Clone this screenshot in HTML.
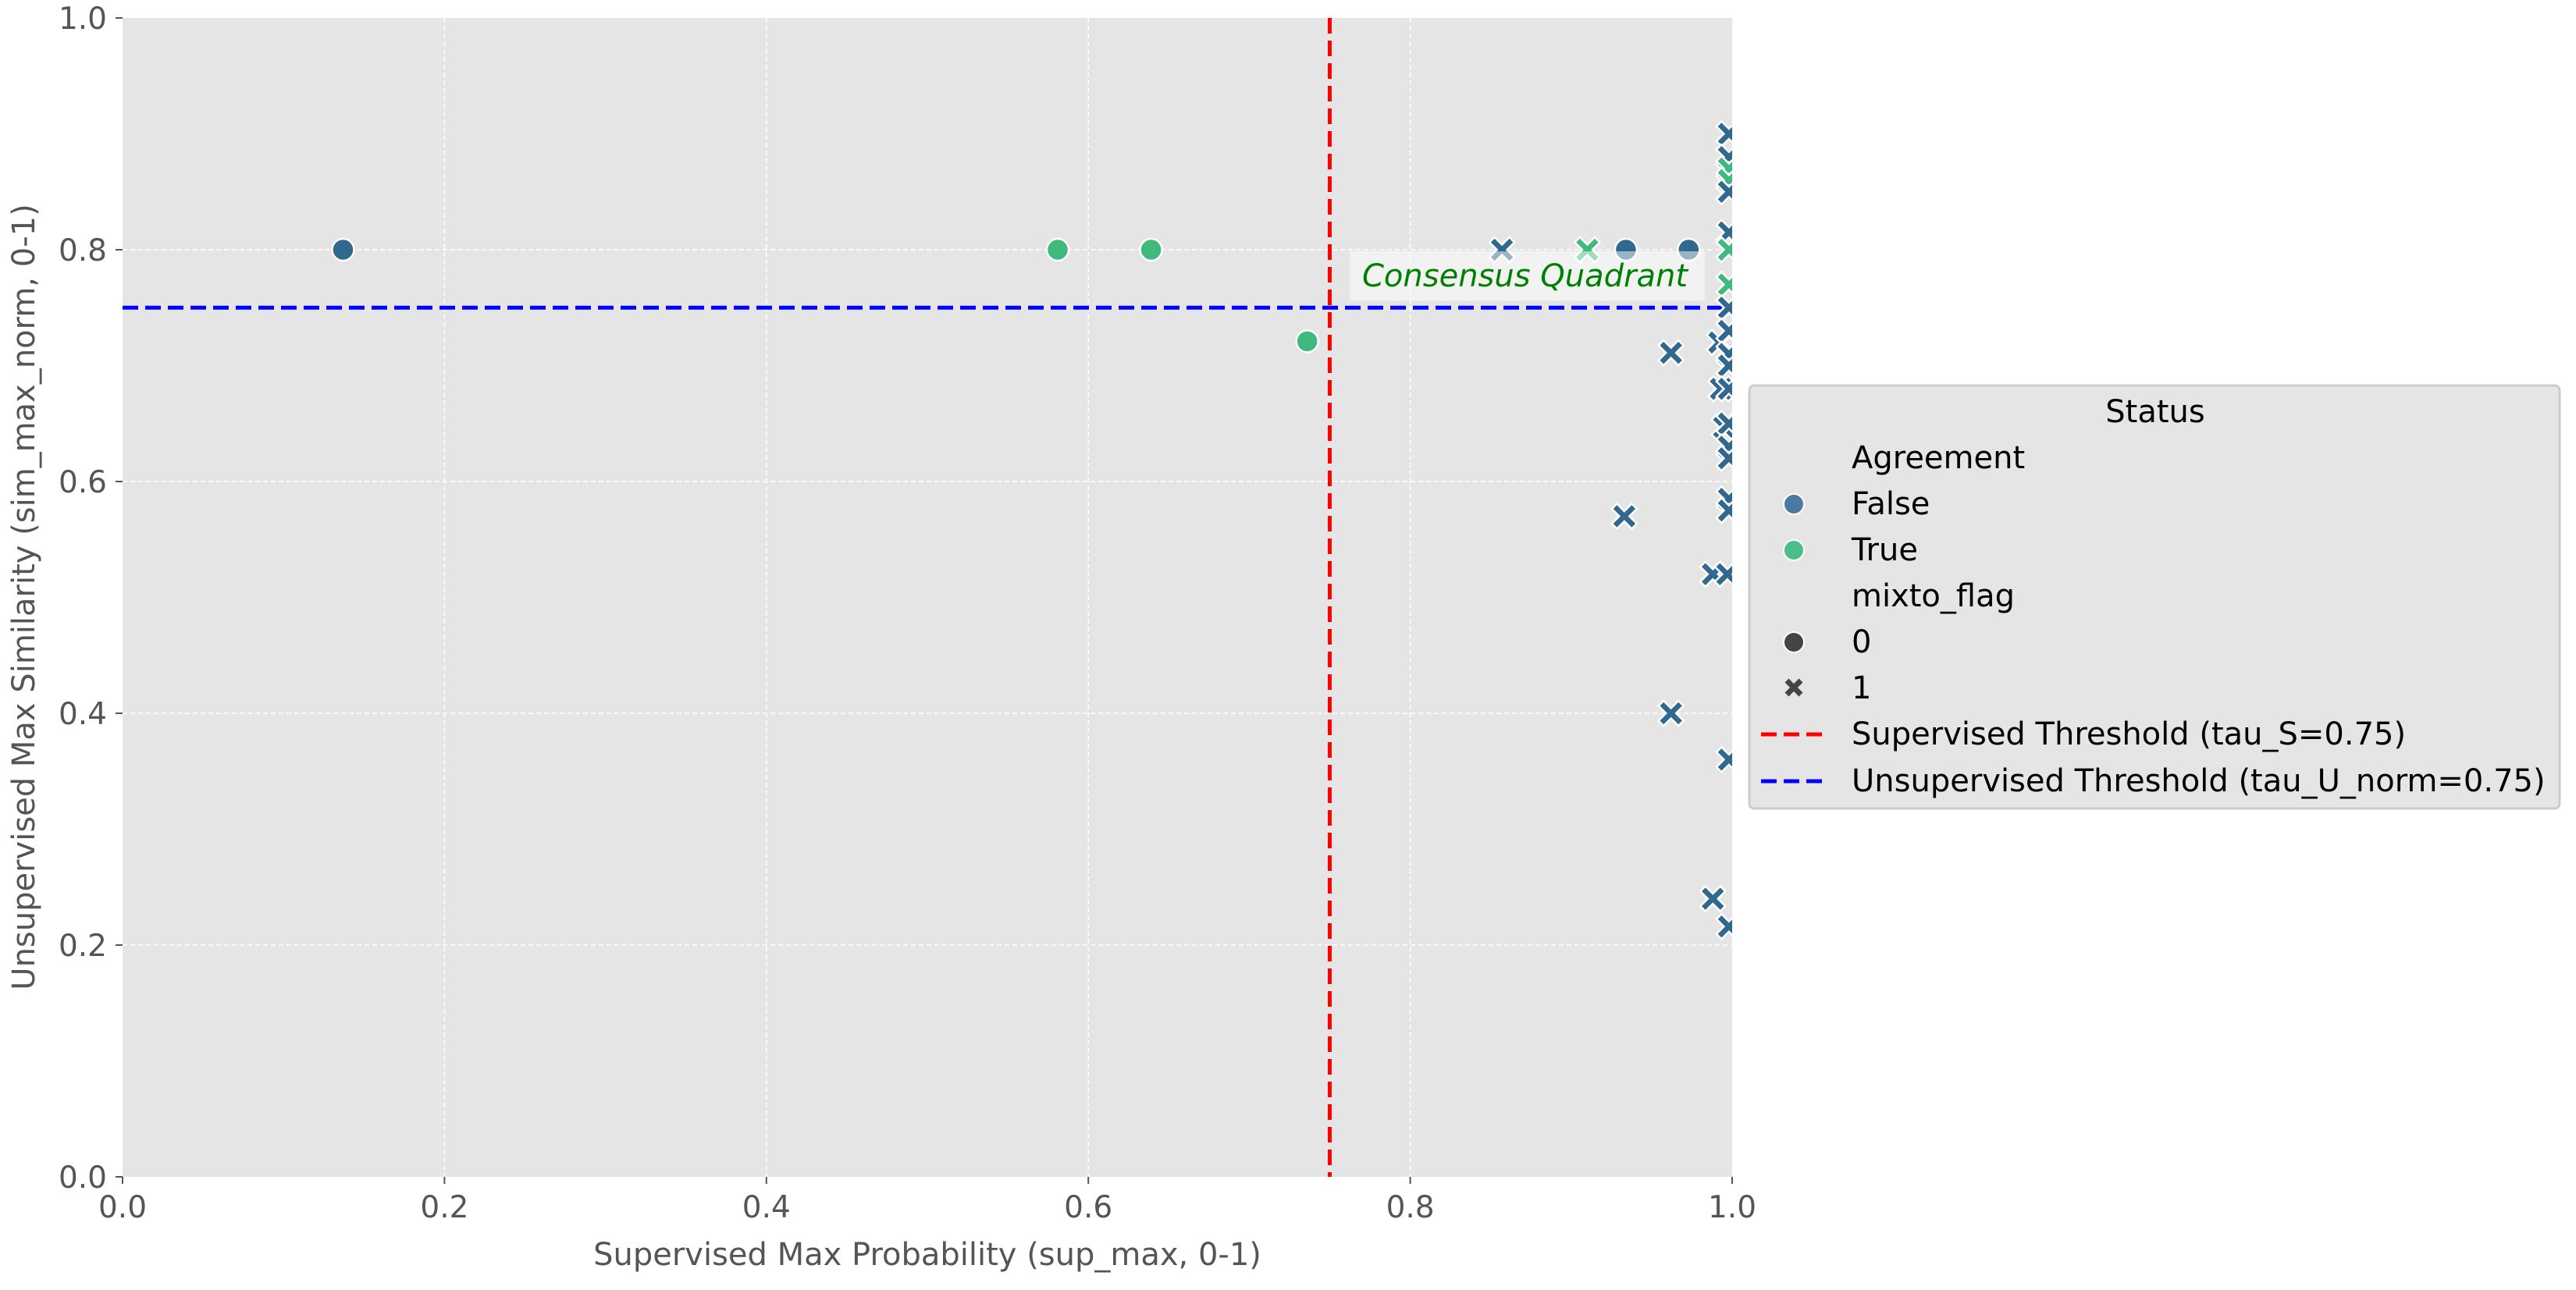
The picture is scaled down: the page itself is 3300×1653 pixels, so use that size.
<!DOCTYPE html>
<html><head><meta charset="utf-8"><style>
html,body{margin:0;padding:0;background:#fff;}
svg{display:block;font-family:"DejaVu Sans","Liberation Sans",sans-serif;}
</style></head><body>
<svg id="chart" width="3300" height="1653" viewBox="0 0 3300 1653" xmlns="http://www.w3.org/2000/svg">
<rect x="157" y="23" width="2062" height="1485" fill="#e5e5e5"/>
<g id="grid"></g>
<g id="axes"></g>
<line id="redline" stroke="#ff0000" stroke-width="5" stroke-dasharray="20,9"/>
<line id="blueline" stroke="#0000ff" stroke-width="5" stroke-dasharray="20,9"/>
<g id="points"></g>
<rect x="1729" y="322" width="455" height="63" fill="#ffffff" fill-opacity="0.5"/>
<text x="1745" y="367" font-size="40" font-style="italic" fill="#008000">Consensus Quadrant</text>
<text x="1188" y="1621" font-size="40" fill="#555" text-anchor="middle">Supervised Max Probability (sup_max, 0-1)</text>
<text transform="translate(44,765) rotate(-90)" font-size="40" fill="#555" text-anchor="middle">Unsupervised Max Similarity (sim_max_norm, 0-1)</text>
<g>
<rect x="2241" y="494" width="1038" height="542" rx="6" fill="#e5e5e5" stroke="#cccccc" stroke-width="3"/>
<text x="2761" y="541" font-size="40" fill="#000" text-anchor="middle">Status</text>
<text x="2372" y="600" font-size="40">Agreement</text>
<circle cx="2298" cy="646" r="13" fill="#4a7aa0" stroke="#fff" stroke-width="2"/>
<text x="2372" y="659" font-size="40">False</text>
<circle cx="2298" cy="705" r="13" fill="#4cbe88" stroke="#fff" stroke-width="2"/>
<text x="2372" y="718" font-size="40">True</text>
<text x="2372" y="777" font-size="40">mixto_flag</text>
<circle cx="2298" cy="823" r="13" fill="#444" stroke="#fff" stroke-width="2"/>
<text x="2372" y="836" font-size="40">0</text>
<path d="M2289,872 L2307,890 M2307,872 L2289,890" stroke="#444" stroke-width="7"/>
<text x="2372" y="895" font-size="40">1</text>
<line x1="2256" y1="941" x2="2340" y2="941" stroke="#ff0000" stroke-width="5" stroke-dasharray="20,9"/>
<text x="2372" y="954" font-size="40">Supervised Threshold (tau_S=0.75)</text>
<line x1="2256" y1="1001" x2="2340" y2="1001" stroke="#0000ff" stroke-width="5" stroke-dasharray="20,9"/>
<text x="2372" y="1014" font-size="40">Unsupervised Threshold (tau_U_norm=0.75)</text>
</g>
</svg>
<script>
const xTicks = [0.0, 0.2, 0.4, 0.6, 0.8, 1.0];
const yTicks = [0.0, 0.2, 0.4, 0.6, 0.8, 1.0];
const tauS = 0.75;
const tauU = 0.75;
// x = sup_max, y = sim_max_norm, agree = Agreement (1 True), mixto = 0 circle / 1 cross
const ptX     = [0.137,0.581,0.639,0.736,0.934,0.973, 0.857,0.910,0.962,0.992,0.993,0.995,0.933,0.988,0.997,0.962,0.988,0.998,0.998, 0.998,0.998,0.998,0.998,0.998,0.998,0.998,0.998,0.998,0.998,0.998,0.998,0.998,0.998,0.998,0.998,0.998,0.998];
const ptY     = [0.80,0.80,0.80,0.721,0.80,0.80, 0.80,0.80,0.711,0.72,0.68,0.647,0.57,0.52,0.52,0.40,0.24,0.216,0.36, 0.90,0.88,0.87,0.86,0.85,0.815,0.80,0.77,0.75,0.73,0.71,0.70,0.68,0.65,0.63,0.62,0.585,0.575];
const ptAgree = [0,1,1,1,0,0, 0,1,0,0,0,0,0,0,0,0,0,0,0, 0,0,1,1,0,0,1,1,0,0,0,0,0,0,0,0,0,0];
const ptMixto = [0,0,0,0,0,0, 1,1,1,1,1,1,1,1,1,1,1,1,1, 1,1,1,1,1,1,1,1,1,1,1,1,1,1,1,1,1,1];

const X0=157, X1=2219, Y0=1508, Y1=23;
const sx = v => X0 + v*(X1-X0);
const sy = v => Y0 - v*(Y0-Y1);
const NS="http://www.w3.org/2000/svg";
function mk(tag, attrs, parent){const e=document.createElementNS(NS,tag);for(const k in attrs)e.setAttribute(k,attrs[k]);parent.appendChild(e);return e;}
const grid=document.getElementById('grid'), axes=document.getElementById('axes'), pts=document.getElementById('points');
xTicks.forEach(t=>{
  if(t>0&&t<1){const g=mk('line',{x1:sx(t),x2:sx(t),y1:Y1,y2:Y0,stroke:'#fff','stroke-width':1.5,'stroke-dasharray':'6,4'},grid);
  
  }
  const tk=mk('line',{x1:sx(t),x2:sx(t),y1:Y0,y2:Y0+9,stroke:'#555','stroke-width':2},axes);
  
  
  const tx=mk('text',{x:sx(t),y:Y0+52,'font-size':39,fill:'#555','text-anchor':'middle'},axes);
  tx.textContent=t.toFixed(1);
  
  
});
yTicks.forEach(t=>{
  if(t>0&&t<1){const g=mk('line',{x1:X0,x2:X1,y1:sy(t),y2:sy(t),stroke:'#fff','stroke-width':1.5,'stroke-dasharray':'6,4'},grid);
  
  }
  const tk=mk('line',{x1:X0-9,x2:X0,y1:sy(t),y2:sy(t),stroke:'#555','stroke-width':2},axes);
  
  
  const tx=mk('text',{x:X0-20,y:sy(t)+14,'font-size':39,fill:'#555','text-anchor':'end'},axes);
  tx.textContent=t.toFixed(1);
  
  
});
const rl=document.getElementById('redline');
rl.setAttribute('x1',sx(tauS));rl.setAttribute('x2',sx(tauS));rl.setAttribute('y1',Y1);rl.setAttribute('y2',Y0);
const bl=document.getElementById('blueline');
bl.setAttribute('x1',X0);bl.setAttribute('x2',X1);bl.setAttribute('y1',sy(tauU));bl.setAttribute('y2',sy(tauU));
const clip=mk('clipPath',{id:'pc'},document.getElementById('chart'));
mk('rect',{x:X0,y:Y1,width:X1-X0,height:Y0-Y1},clip);
pts.setAttribute('clip-path','url(#pc)');
for(let i=0;i<ptX.length;i++){
  const cx=sx(ptX[i]), cy=sy(ptY[i]);
  const col=ptAgree[i]?'#3dba7c':'#31688e';
  let m;
  if(ptMixto[i]===0){
    m=mk('circle',{cx:cx,cy:cy,r:14,fill:col,stroke:'#fff','stroke-width':2.5},pts);
  } else {
    const a=6.5,b=16;
    const d=`M${cx-b+a},${cy-b} L${cx},${cy-a} L${cx+b-a},${cy-b} L${cx+b},${cy-b+a} L${cx+a},${cy} L${cx+b},${cy+b-a} L${cx+b-a},${cy+b} L${cx},${cy+a} L${cx-b+a},${cy+b} L${cx-b},${cy+b-a} L${cx-a},${cy} L${cx-b},${cy-b+a} Z`;
    m=mk('path',{d:d,fill:col,stroke:'#fff','stroke-width':2.5},pts);
  }
  
  
}
</script>
</body></html>
